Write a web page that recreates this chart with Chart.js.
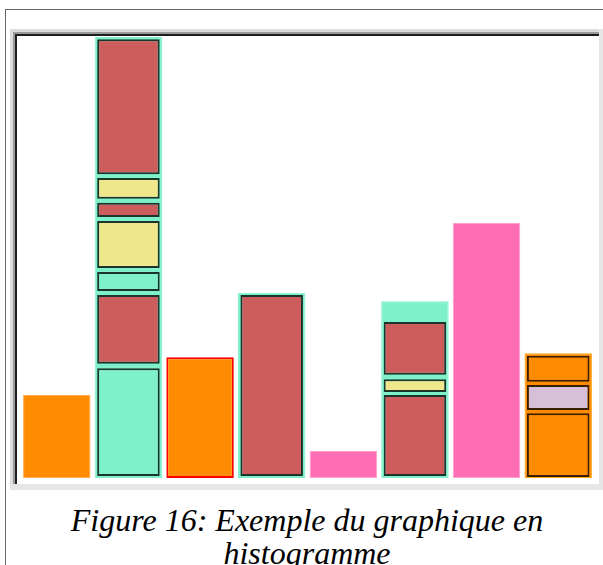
<!DOCTYPE html>
<html>
<head>
<meta charset="utf-8">
<script src="https://cdn.jsdelivr.net/npm/chart.js@4/dist/chart.umd.min.js"></script>
<style>
  html, body { margin: 0; padding: 0; background: #fff; overflow: hidden; }
  #outer { position: absolute; left: 5px; top: 9px; width: 610px; height: 620px; border: 1px solid #666; box-sizing: border-box; }
  #frame { position: absolute; left: 10px; top: 29px; width: 593px; height: 461px; box-sizing: border-box;
           background: #fff; border-right: 4px solid #e6e6e6; border-bottom: 6px solid #e6e6e6;
           box-shadow: inset 3px 3px 0 #dcdcdc, inset 5px 5px 0 #9a9a9a, inset 7px 7px 0 #1e1e1e; }
  #c { position: absolute; left: 17px; top: 36px; }
  #caption { position: absolute; left: 5px; width: 604px; top: 504px; text-align: center;
             font: italic 32px "Liberation Serif", "Times New Roman", serif; line-height: 33px; color: #000; }
</style>
</head>
<body>
<div id="outer"></div>
<div id="frame"></div>
<canvas id="c" width="581" height="448"></canvas>
<div id="caption">Figure 16: Exemple du graphique en histogramme</div>
<script>
// Categories (bins) of the histogram
const categories = ['1', '2', '3', '4', '5', '6', '7', '8'];

// Outer bar values (totals per bin)
const outerValues = [18.8, 100, 27.4, 42, 6.1, 40.1, 57.8, 28.3];
const outerColors = ['#ff8c00', '#7ef0ca', '#ff8c00', '#7ef0ca', '#ff6eb4', '#7ef0ca', '#ff6eb4', '#ff8c00'];
const outerBorders = ['#ffa94d', '#7ef0ca', '#ff0000', '#7ef0ca', '#ffa0cc', '#7ef0ca', '#ffa0cc', '#ffa31a'];
const outerBorderWidths = [1, 1, 2, 1, 1, 1, 1, 1];

// Inner sub-bars, one array per level (from top of the bar downward), [low, high]
const seg1 = [null, [68.9, 99.5], null, [0.45, 41.5], null, [23.4, 35.4], null, [21.8, 27.7]];
const seg1Colors = [null, '#cd5c5c', null, '#cd5c5c', null, '#cd5c5c', null, '#ff8c00'];
const seg2 = [null, [63.3, 68.0], null, null, null, [19.5, 22.4], null, [15.4, 21.1]];
const seg2Colors = [null, '#f0e68c', null, null, null, '#f0e68c', null, '#d8bfd8'];
const seg3 = [null, [59.2, 62.4], null, null, null, [0.45, 18.8], null, [0.2, 14.7]];
const seg3Colors = [null, '#cd5c5c', null, null, null, '#cd5c5c', null, '#ff8c00'];
const seg4 = [null, [47.6, 58.3], null, null, null, null, null, null];
const seg4Colors = [null, '#f0e68c', null, null, null, null, null, null];
const seg5 = [null, [42.4, 46.7], null, null, null, null, null, null];
const seg5Colors = [null, '#7ef0ca', null, null, null, null, null, null];
const seg6 = [null, [25.9, 41.5], null, null, null, null, null, null];
const seg6Colors = [null, '#cd5c5c', null, null, null, null, null, null];
const seg7 = [null, [0.45, 24.9], null, null, null, null, null, null];
const seg7Colors = [null, '#7ef0ca', null, null, null, null, null, null];

const segs = [[seg1, seg1Colors], [seg2, seg2Colors], [seg3, seg3Colors], [seg4, seg4Colors],
              [seg5, seg5Colors], [seg6, seg6Colors], [seg7, seg7Colors]];

const datasets = [{
  data: outerValues,
  backgroundColor: outerColors,
  borderColor: outerBorders,
  borderWidth: outerBorderWidths,
  borderSkipped: false,
  barPercentage: 0.942,
  categoryPercentage: 1,
  grouped: false,
  order: 2
}];
segs.forEach(([d, col]) => {
  datasets.push({
    data: d,
    backgroundColor: col.map(c => c || 'transparent'),
    borderColor: 'rgba(0,0,0,0.78)',
    borderWidth: 2,
    borderSkipped: false,
    barPercentage: 0.873,
    categoryPercentage: 1,
    grouped: false,
    order: 1
  });
});

new Chart(document.getElementById('c'), {
  type: 'bar',
  data: { labels: categories, datasets },
  options: {
    responsive: false,
    animation: false,
    devicePixelRatio: 1,
    layout: { padding: { left: 4, right: 4, top: 1, bottom: 6 } },
    plugins: { legend: { display: false }, tooltip: { enabled: false } },
    scales: {
      x: { display: false },
      y: { display: false, min: 0, max: 100 }
    }
  }
});
</script>
</body>
</html>
